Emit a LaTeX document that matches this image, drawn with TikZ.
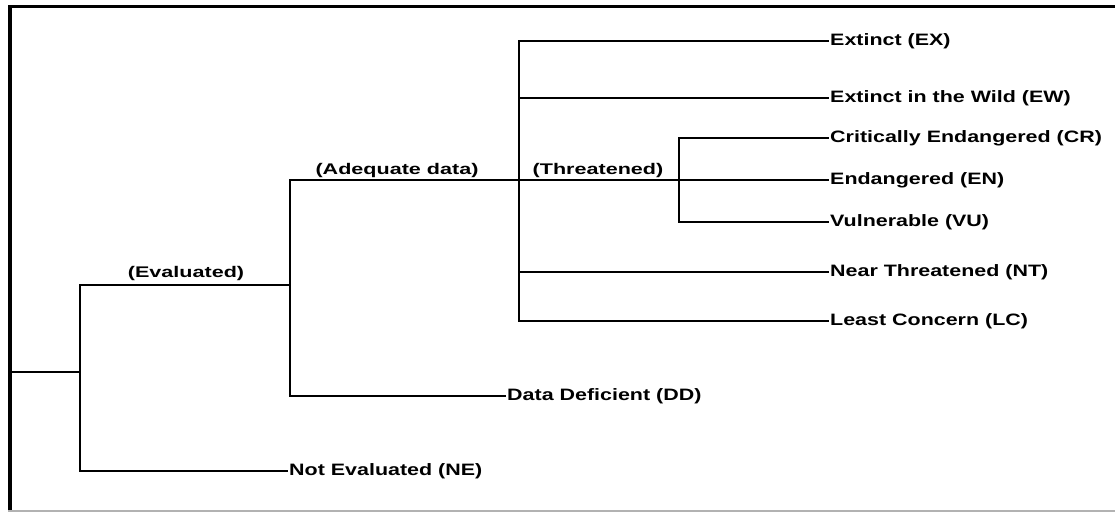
\documentclass[tikz,border=0pt]{standalone}
\usepackage{fontspec}
\setmainfont{Liberation Sans}[FakeStretch=1.4]
\newfontfamily\leaffont{Liberation Sans}[FakeStretch=1.3]

\tikzset{
  branch/.style = {line width=1.5pt, line cap=rect},
  leaf/.style   = {anchor=west, inner xsep=2pt, inner ysep=0pt,
                   font=\leaffont\fontsize{16.5}{19}\selectfont\bfseries},
  group/.style  = {anchor=base, inner sep=0pt},
}

\begin{document}
\begin{tikzpicture}[x=1pt, y=-1pt,
    nodes = {font=\fontsize{15.4}{18}\selectfont\bfseries}]
  \useasboundingbox (0,0) rectangle (1115,512);
  % frame
  \draw[line width=3pt] (8,6.5) -- (1115,6.5);
  \draw[line width=4pt] (10,5) -- (10,512);
  \draw[gray!60, line width=1.5pt] (8,510.8) -- (1115,510.8);

  % branch points
  \coordinate (root) at (12,372);
  \coordinate (all)  at (80,372);
  \coordinate (eval) at (290,285);
  \coordinate (adeq) at (519,180);
  \coordinate (thr)  at (679,180);

  % leaves
  \node[leaf] (ne) at (287,471) {Not Evaluated (NE)};
  \node[leaf] (dd) at (505,396) {Data Deficient (DD)};
  \foreach \y/\name/\txt in {
      41/ex/Extinct (EX),
      98/ew/Extinct in the Wild (EW),
      138/cr/Critically Endangered (CR),
      180/en/Endangered (EN),
      222/vu/Vulnerable (VU),
      272/nt/Near Threatened (NT),
      321/lc/Least Concern (LC)
    } {
      \node[leaf] (\name) at (828,\y) {\txt};
    };

  % group labels
  \node[group] (evaluated) at (186,277) {(Evaluated)};
  \node[group] (adequate)  at (397,174) {(Adequate data)};
  \node[group] (threat)    at (598,174) {(Threatened)};

  % tree
  \draw[branch] (root) -- (all);
  \draw[branch] (all) |- (eval);
  \draw[branch] (all) |- (ne.west);
  \draw[branch] (eval) |- (dd.west);
  \draw[branch] (eval |- adeq) -- (en.west);
  \draw[branch] (eval) -- (eval |- adeq);
  \foreach \name in {ex, ew, nt, lc}
    \draw[branch] (adeq) |- (\name.west);
  \draw[branch] (thr) |- (cr.west);
  \draw[branch] (thr) |- (vu.west);
\end{tikzpicture}
\end{document}
